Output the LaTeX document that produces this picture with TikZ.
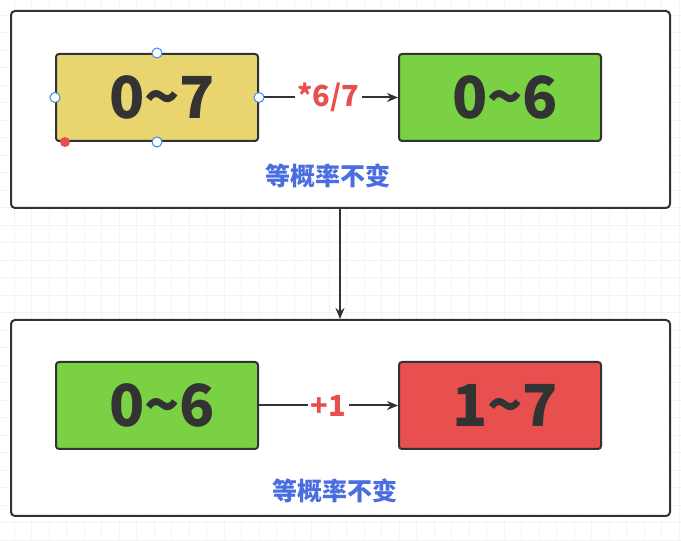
\documentclass[tikz,border=0pt]{standalone}
\usepackage{fontspec}
\usepackage{xcolor}
\usepackage{tikz}
\usetikzlibrary{arrows.meta,positioning,calc}
\newfontfamily\cjk{Noto Sans CJK SC}

\definecolor{inkdark}{HTML}{2F3236}
\definecolor{numdark}{HTML}{333333}
\definecolor{boxyellow}{HTML}{E8D570}
\definecolor{boxgreen}{HTML}{7AD144}
\definecolor{boxred}{HTML}{E85050}
\definecolor{labred}{HTML}{E85050}
\definecolor{labblue}{HTML}{4A6EE0}
\definecolor{handleblue}{HTML}{3A8EE6}

\begin{document}
\begin{tikzpicture}[
  x=1pt, y=1pt,
  >={Stealth[length=11pt,width=9pt]},
  panel/.style={draw=inkdark, line width=2pt, fill=white, rounded corners=4pt,
    minimum width=659pt, minimum height=197pt, inner sep=0pt},
  rangebox/.style={draw=inkdark, line width=2pt, rounded corners=3pt,
    minimum width=202pt, minimum height=87pt, inner sep=0pt,
    font=\cjk\bfseries\fontsize{58}{58}\selectfont, text=numdark},
  oplabel/.style={fill=white, inner sep=3pt, font=\cjk\bfseries\fontsize{29}{29}\selectfont, text=labred},
  note/.style={font=\cjk\bfseries\fontsize{25}{25}\selectfont, text=labblue},
  link/.style={draw=inkdark, line width=2pt, ->},
  handle/.style={draw=handleblue, fill=white, line width=1pt},
]
\useasboundingbox (0,0) rectangle (681,541);

% Grid background
\foreach \k in {0,...,39} {
  \draw[gray!9, line width=1pt] ({-3.5+17.5*\k}, 0) -- ({-3.5+17.5*\k}, 541);
}
\foreach \k in {0,...,31} {
  \draw[gray!9, line width=1pt] (0, {541+2.2-17.5*\k}) -- (681, {541+2.2-17.5*\k});
}

% Panels
\node[panel] (top) at (340.5, 431.5) {};
\node[panel, minimum height=196pt] (bottom) at (340.5, 123) {};

% Upper step
\node[rangebox, fill=boxyellow] (full) at (157, 443.5) {\hspace{10pt}0\textasciitilde 7};
\node[rangebox, fill=boxgreen] (scaled) at (500, 443.5) {\hspace{10pt}0\textasciitilde 6};
\draw[link] (full) -- node[oplabel] (mul) {*6/7} (scaled);
\node[note] (keep1) at (328, 365) {等概率不变};

% Lower step
\node[rangebox, fill=boxgreen] (base) at (157, 135.5) {\hspace{10pt}0\textasciitilde 6};
\node[rangebox, fill=boxred] (shifted) at (500, 135.5) {\hspace{10pt}1\textasciitilde 7};
\draw[link] (base) -- node[oplabel] (add) {+1} (shifted);
\node[note] (keep2) at (335, 50) {等概率不变};

% Between panels
\draw[link] (top.south -| 340,0) -- (bottom.north -| 340,0);

% Selection handles
\foreach \a in {west, east, north, south} {
  \draw[handle] (full.\a) circle (5pt);
}
\fill[labred] ($(full.south west)+(10,0)$) circle (5pt);
\end{tikzpicture}
\end{document}
